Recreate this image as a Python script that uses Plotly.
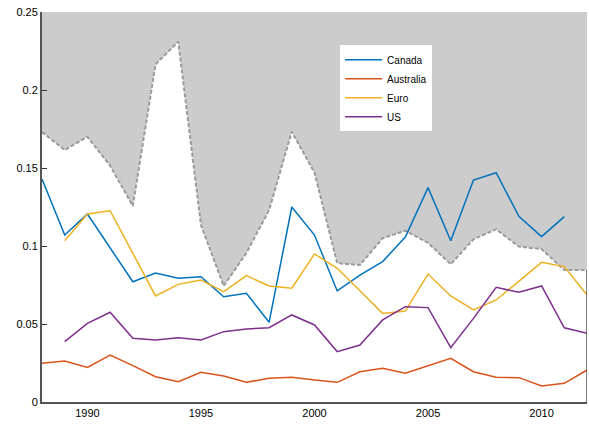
import plotly.graph_objects as go

years = list(range(1988, 2013))

envelope = [0.173, 0.1615, 0.170, 0.1515, 0.1256, 0.2164, 0.231, 0.1135, 0.0744, 0.0955,
            0.123, 0.1733, 0.147, 0.089, 0.0878, 0.105, 0.1098, 0.102, 0.0883, 0.1043,
            0.1107, 0.0996, 0.098, 0.0846, 0.0846]

canada = [0.143, 0.107, 0.1205, 0.099, 0.0771, 0.0826, 0.0794, 0.0803, 0.0675, 0.0697,
          0.0511, 0.125, 0.107, 0.0712, 0.0814, 0.090, 0.1057, 0.1374, 0.1034, 0.1423,
          0.147, 0.119, 0.106, 0.1188, None]

australia = [0.0248, 0.0263, 0.0222, 0.0301, 0.0233, 0.0162, 0.013, 0.019, 0.0167, 0.0126,
             0.0152, 0.0158, 0.0141, 0.0126, 0.0194, 0.0216, 0.0184, 0.023, 0.028, 0.0194,
             0.0158, 0.0156, 0.0103, 0.012, 0.0205]

euro = [None, 0.1034, 0.1205, 0.1226, 0.0955, 0.068, 0.0754, 0.0782, 0.0707, 0.081,
        0.0744, 0.0729, 0.0949, 0.0857, 0.0713, 0.0568, 0.0583, 0.082, 0.068, 0.059,
        0.0654, 0.0776, 0.0895, 0.0868, 0.0686]

us = [None, 0.0387, 0.0504, 0.0575, 0.0408, 0.0397, 0.0412, 0.0397, 0.0451, 0.0468,
      0.0476, 0.0558, 0.0494, 0.0323, 0.0365, 0.0526, 0.0611, 0.0605, 0.0348, 0.0536,
      0.0735, 0.0703, 0.0744, 0.0476, 0.044]

y_top = 0.25
y_ticks = [0, 0.05, 0.1, 0.15, 0.2, 0.25]
y_labels = ["0", "0.05", "0.1", "0.15", "0.2", "0.25"]
x_ticks = [1990, 1995, 2000, 2005, 2010]

fig = go.Figure()

# gray band above the envelope
fig.add_trace(go.Scatter(x=years, y=[y_top] * len(years), mode="lines",
                         line=dict(width=0, color="rgba(0,0,0,0)"),
                         showlegend=False, hoverinfo="skip"))
fig.add_trace(go.Scatter(x=years, y=envelope, mode="lines", fill="tonexty",
                         fillcolor="#cccccc",
                         line=dict(color="#9a9a9a", width=2, dash="4px,2px"),
                         showlegend=False, hoverinfo="skip"))

series = [("Canada", canada, "#0072BD"), ("Australia", australia, "#D95319"),
          ("Euro", euro, "#EDB120"), ("US", us, "#7E2F8E")]
for name, vals, col in series:
    fig.add_trace(go.Scatter(x=years, y=vals, mode="lines", name=name,
                             line=dict(color=col, width=1.5)))

# right edge of the box, visible only below the gray band
fig.add_shape(type="line", xref="x", yref="y", x0=years[-1], x1=years[-1],
              y0=0, y1=envelope[-1], line=dict(color="#555555", width=1.5))

fig.update_layout(
    width=589, height=424,
    margin=dict(l=42, r=2, t=12, b=22),
    paper_bgcolor="white", plot_bgcolor="white",
    font=dict(family="Liberation Sans, Arial, sans-serif", size=11, color="black"),
    legend=dict(x=0.547, y=0.915, xanchor="left", yanchor="top",
                bgcolor="white", borderwidth=0, font=dict(size=10),
                traceorder="normal", tracegroupgap=0, itemwidth=37,
                entrywidth=92),
    xaxis=dict(range=[years[0], years[-1]], tickvals=x_ticks, ticks="",
               showgrid=False, zeroline=False, showline=True,
               linecolor="#555555", linewidth=2, tickfont=dict(size=11)),
    yaxis=dict(range=[0, y_top], tickvals=y_ticks, ticktext=y_labels,
               ticks="inside", ticklen=5, tickcolor="#333333",
               showgrid=False, zeroline=False, showline=True,
               linecolor="#555555", linewidth=2, tickfont=dict(size=11)),
)

# drop the default page margin so the figure sits at the window's corner
fig.write_html("out.html", config={"displayModeBar": False},
               post_script="document.body.style.margin='0';")
